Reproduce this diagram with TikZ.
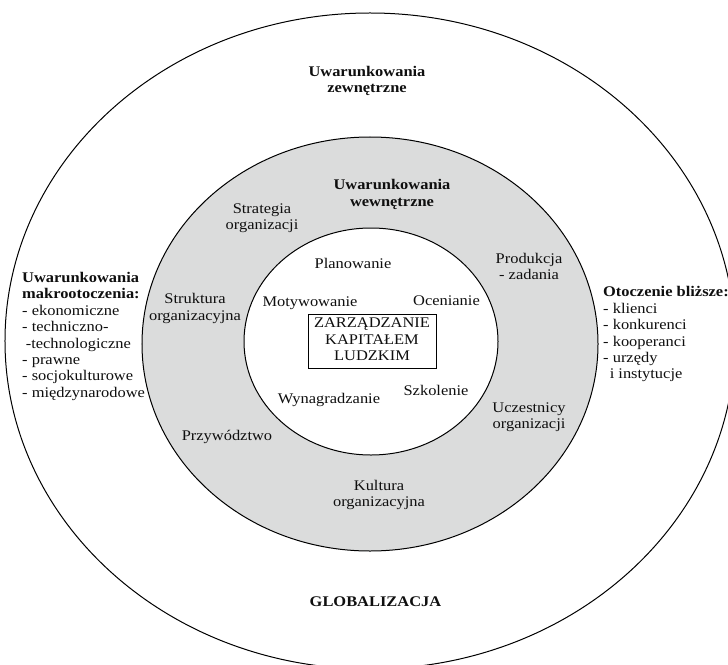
\documentclass[tikz,border=0pt]{standalone}
\usepackage{fontspec}
\setmainfont{Liberation Serif}
\usepackage{graphicx}
\newcommand{\Sc}[1]{\scalebox{1.115}[1]{\begin{tabular}{@{}c@{}}#1\end{tabular}}}
\newcommand{\Sl}[1]{\scalebox{1.115}[1]{\begin{tabular}{@{}l@{}}#1\end{tabular}}}
\definecolor{ringgray}{RGB}{219,220,220}
\definecolor{ink}{RGB}{15,15,15}
\begin{document}
\begin{tikzpicture}[x=1bp,y=-1bp,
  ring/.style={draw=black,line width=1bp},
  lbl/.style={inner sep=0pt,text=ink,font=\fontsize{14.8}{16.5}\selectfont},
  bold/.style={inner sep=0pt,text=ink,font=\fontsize{14.8}{16.5}\selectfont\bfseries}]
\useasboundingbox (0,0) rectangle (728,665);
\clip (0,0) rectangle (728,665);
\fill[white] (0,0) rectangle (728,665);
% rings
\draw[ring,fill=white] (370,341) ellipse [x radius=365bp, y radius=328bp];
\draw[ring,fill=ringgray] (370,344) ellipse [x radius=228bp, y radius=207bp];
\draw[ring,fill=white] (371,341.5) ellipse [x radius=127bp, y radius=113.5bp];
% outer ring labels
\node[bold] (zew) at (367,81) {\Sc{Uwarunkowania\\zewnętrzne}};
\node[bold] (glob) at (375.5,603) {\Sc{GLOBALIZACJA}};
\node[lbl,anchor=west] (makro) at (22,336.5) {\Sl{\textbf{Uwarunkowania}\\\textbf{makrootoczenia:}\\- ekonomiczne\\- techniczno-\\\hspace{0.22em}-technologiczne\\- prawne\\- socjokulturowe\\- międzynarodowe}};
\node[lbl,anchor=west] (blizsze) at (603,334.5) {\Sl{\textbf{Otoczenie bliższe:}\\- klienci\\- konkurenci\\- kooperanci\\- urzędy\\\hspace{0.4em}i instytucje}};
% middle ring labels
\node[bold] (wew) at (392,194.5) {\Sc{Uwarunkowania\\wewnętrzne}};
\node[lbl] (strategia) at (262,218) {\Sc{Strategia\\organizacji}};
\node[lbl] (produkcja) at (529,268) {\Sc{Produkcja\\- zadania}};
\node[lbl] (struktura) at (195,308.5) {\Sc{Struktura\\organizacyjna}};
\node[lbl] (uczestnicy) at (529,417) {\Sc{Uczestnicy\\organizacji}};
\node[lbl] (przyw) at (227,437) {\Sc{Przywództwo}};
\node[lbl] (kultura) at (379,495) {\Sc{Kultura\\organizacyjna}};
% inner circle labels
\node[lbl] (plan) at (353,265) {\Sc{Planowanie}};
\node[lbl] (motyw) at (310,303) {\Sc{Motywowanie}};
\node[lbl] (ocen) at (446.5,302) {\Sc{Ocenianie}};
\node[lbl] (wynagr) at (329,400) {\Sc{Wynagradzanie}};
\node[lbl] (szkol) at (436,392) {\Sc{Szkolenie}};
\node[lbl,draw=black,line width=1bp,fill=white,minimum width=128bp,minimum height=54bp] (zkl) at (372,341) {\Sc{ZARZĄDZANIE\\KAPITAŁEM\\LUDZKIM}};
\end{tikzpicture}
\end{document}
